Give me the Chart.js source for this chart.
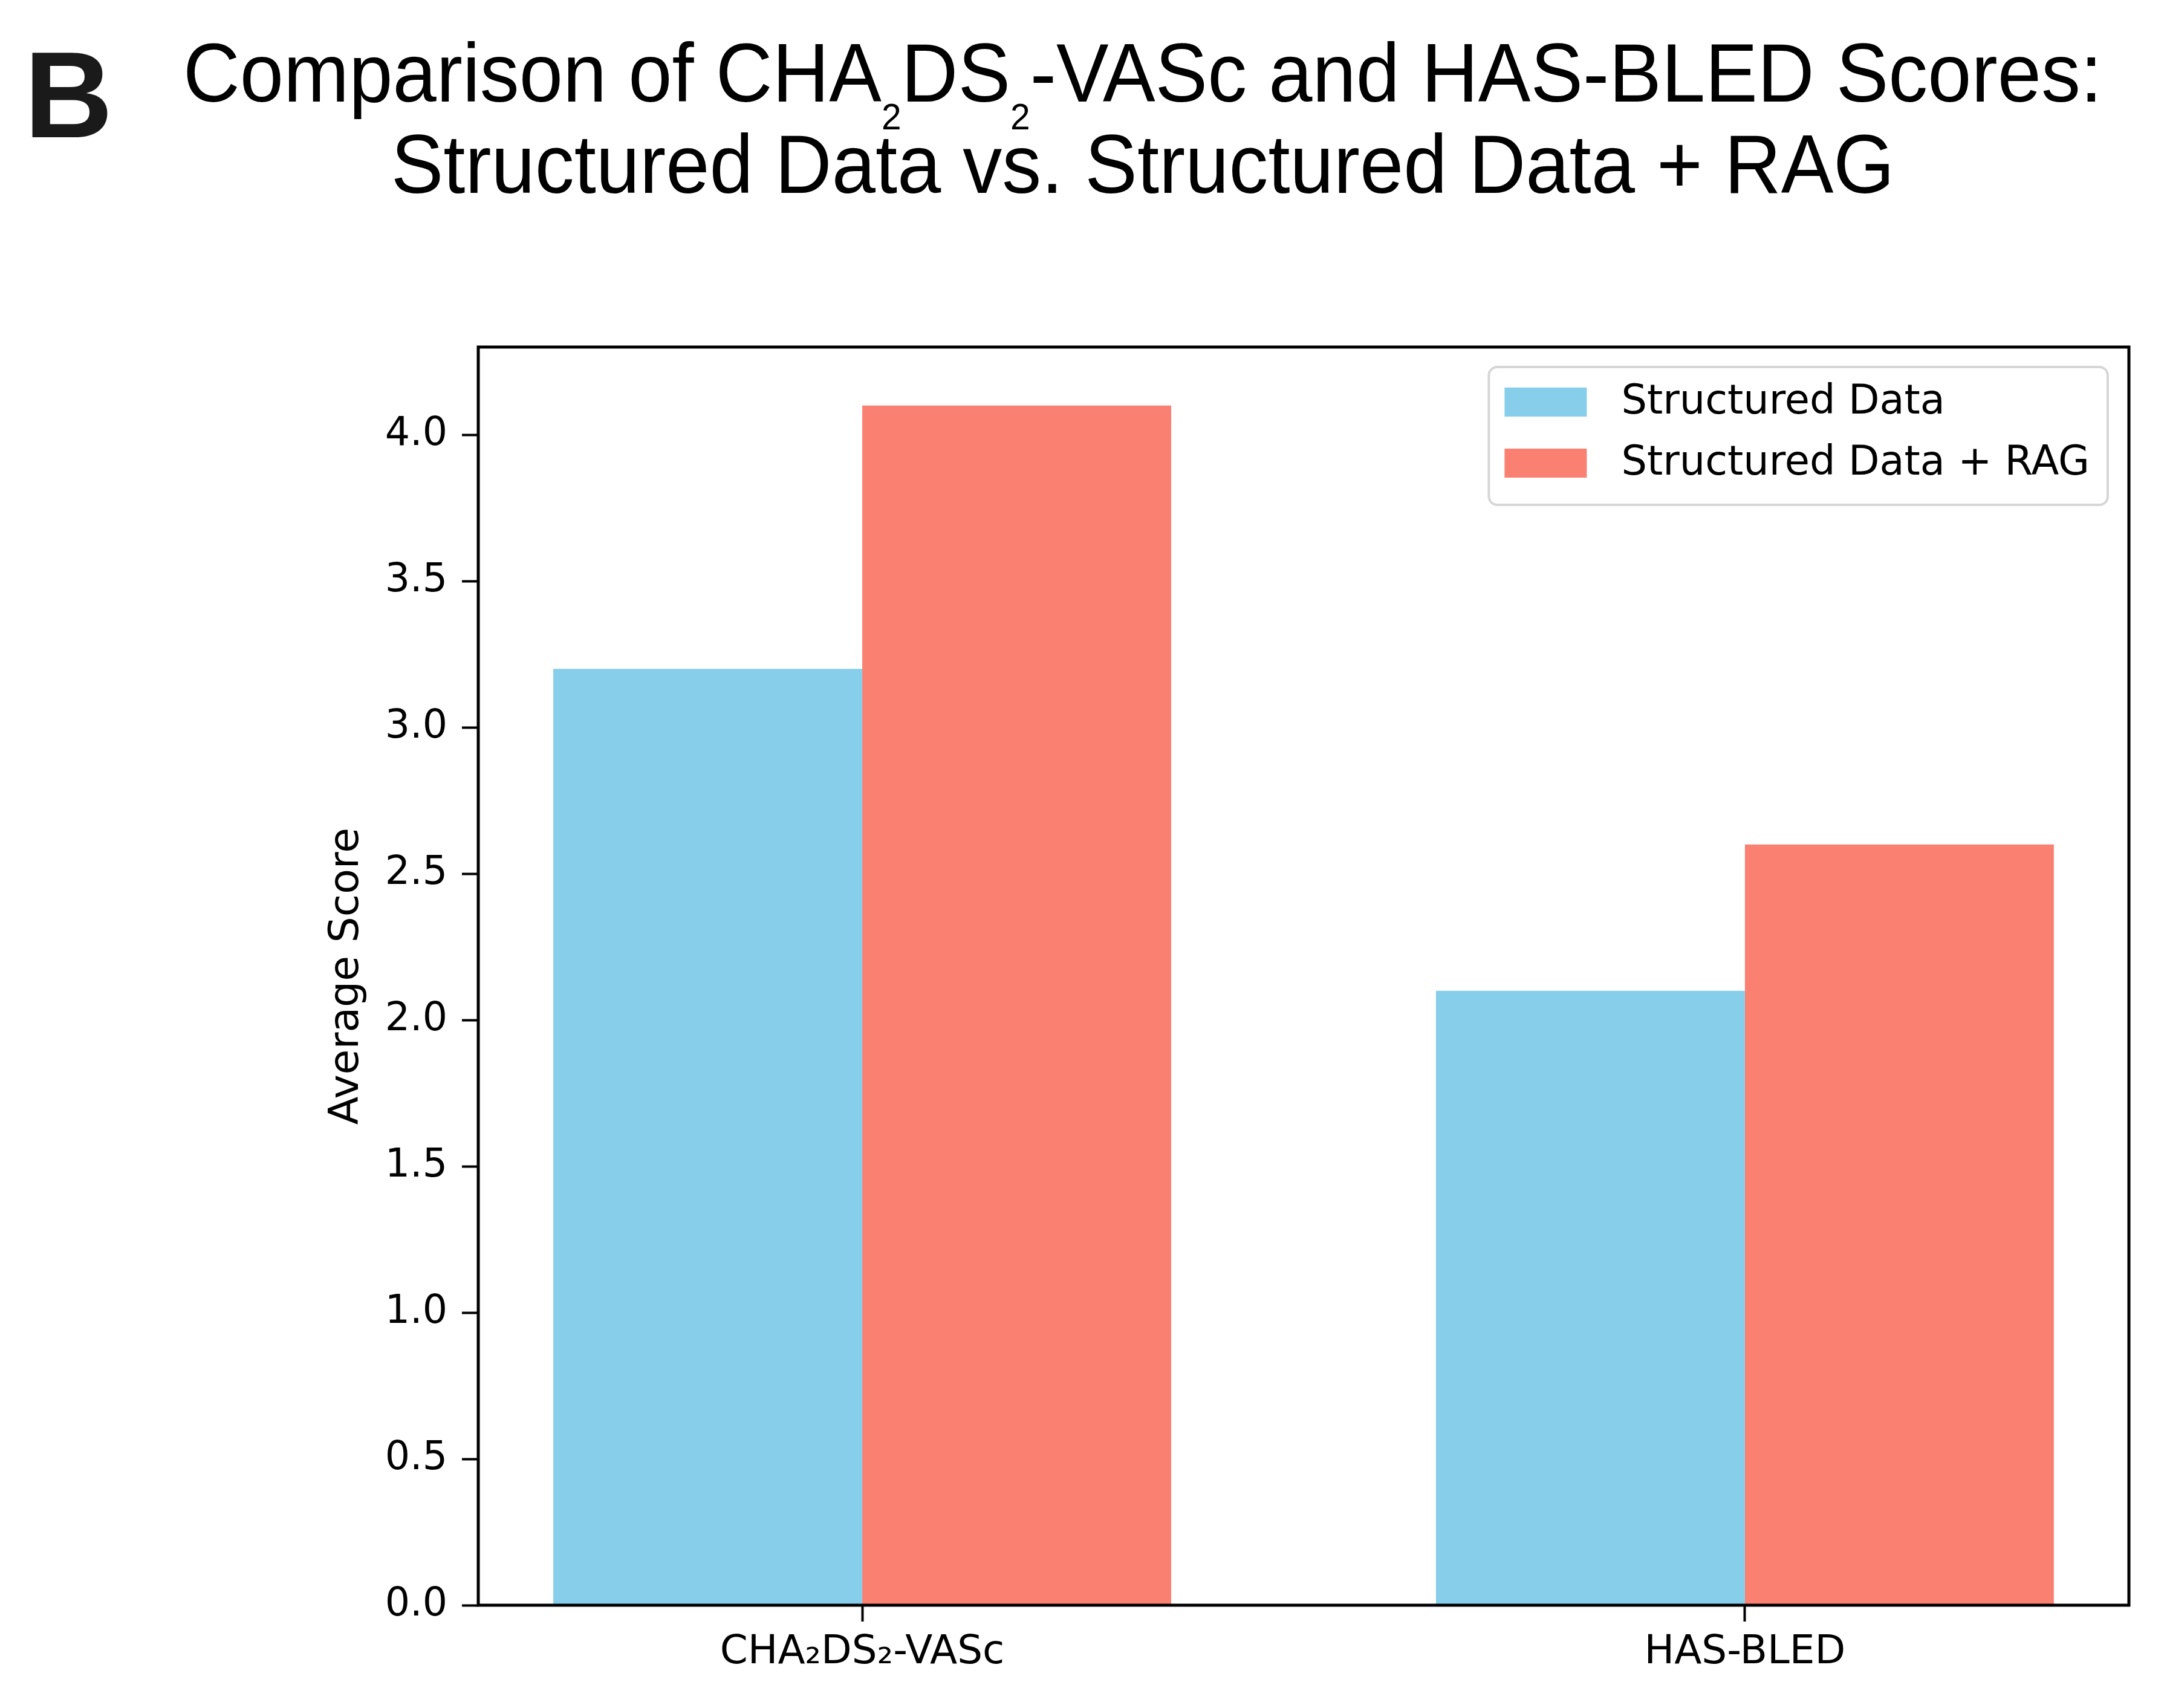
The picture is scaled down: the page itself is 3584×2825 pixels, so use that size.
<!DOCTYPE html>
<html>
<head>
<meta charset="utf-8">
<script src="https://cdn.jsdelivr.net/npm/chart.js@4.4.0/dist/chart.umd.min.js"></script>
<style>
  html, body { margin: 0; padding: 0; background: #fff; overflow: hidden; }
  canvas { display: block; }
</style>
</head>
<body>
<canvas id="chart" width="3584" height="2825"></canvas>
<script>
// values
const categories = ['CHA₂DS₂-VASc', 'HAS-BLED'];
const seriesLabels = ['Structured Data', 'Structured Data + RAG'];
const structuredScores = [3.2, 2.1];
const ragScores = [4.1, 2.6];
const yTickValues = [0, 0.5, 1, 1.5, 2, 2.5, 3, 3.5, 4];
const seriesColors = ['#87ceeb', '#fa8072'];

const xTickFont = { family: "'DejaVu Sans'", size: 66 };
const yTickFont = { family: "'DejaVu Sans'", size: 65 };

// title + panel letter, drawn as text on the canvas (subscripts need manual placement)
const titlePlugin = {
    id: 'figTitle',
    afterDraw(chart) {
        const ctx = chart.ctx;
        ctx.save();
        ctx.fillStyle = '#1a1a1a';
        ctx.textBaseline = 'alphabetic';
        ctx.textAlign = 'left';
        ctx.font = "bold 203px 'Liberation Sans'";
        ctx.fillText('B', 40, 227);

        ctx.fillStyle = '#000';
        const big = "137px 'Liberation Sans'";
        const small = "62px 'Liberation Sans'";
        const squeeze = 0.948; // reference title face is a touch narrower than Liberation Sans
        const drawRich = (segs, cx, base) => {
            let total = 0;
            segs.forEach(s => { ctx.font = s[1] ? small : big; total += ctx.measureText(s[0]).width; });
            ctx.save();
            ctx.translate(cx, 0);
            ctx.scale(squeeze, 1);
            let x = -total / 2;
            segs.forEach(s => {
                ctx.font = s[1] ? small : big;
                ctx.fillText(s[0], x, s[1] ? base + 46 : base);
                x += ctx.measureText(s[0]).width;
            });
            ctx.restore();
        };
        drawRich([['Comparison of CHA', false], ['2', true], ['DS', false], ['2', true],
                  ['-VASc and HAS-BLED Scores:', false]], 1890, 168);
        drawRich([['Structured Data vs. Structured Data + RAG', false]], 1890, 319);
        ctx.restore();
    }
};

// matplotlib-style framed legend in the upper right of the plot
const legendPlugin = {
    id: 'boxLegend',
    afterDraw(chart) {
        const ctx = chart.ctx;
        const area = chart.chartArea;
        ctx.save();
        ctx.font = "67px 'DejaVu Sans'";
        let maxW = 0;
        chart.data.datasets.forEach(ds => { maxW = Math.max(maxW, ctx.measureText(ds.label).width); });
        const w = 26 + 136 + 57 + maxW + 30;
        const h = 228;
        const x0 = area.right - 35 - w;
        const y0 = area.top + 33;
        ctx.beginPath();
        ctx.roundRect(x0, y0, w, h, 14);
        ctx.fillStyle = 'rgba(255,255,255,0.9)';
        ctx.fill();
        ctx.lineWidth = 4;
        ctx.strokeStyle = '#d6d6d6';
        ctx.stroke();
        chart.data.datasets.forEach((ds, i) => {
            const cy = y0 + 58 + i * 101;
            ctx.fillStyle = ds.backgroundColor;
            ctx.fillRect(x0 + 26, cy - 24, 136, 48);
            ctx.fillStyle = '#000';
            ctx.textBaseline = 'middle';
            ctx.fillText(ds.label, x0 + 219, cy + 2);
        });
        ctx.restore();
    }
};

// full box around the axes (spines)
const framePlugin = {
    id: 'frame',
    afterDatasetsDraw(chart) {
        const { ctx, chartArea: a } = chart;
        ctx.save();
        ctx.lineWidth = 5;
        ctx.strokeStyle = '#000';
        ctx.strokeRect(a.left, a.top, a.right - a.left, a.bottom - a.top);
        ctx.restore();
    }
};

const ctx = document.getElementById('chart').getContext('2d');
new Chart(ctx, {
    type: 'bar',
    data: {
        datasets: [
            {
                label: seriesLabels[0],
                data: categories.map((c, i) => ({ x: i, y: structuredScores[i] })),
                backgroundColor: seriesColors[0],
                borderWidth: 0
            },
            {
                label: seriesLabels[1],
                data: categories.map((c, i) => ({ x: i, y: ragScores[i] })),
                backgroundColor: seriesColors[1],
                borderWidth: 0
            }
        ]
    },
    options: {
        responsive: false,
        devicePixelRatio: 1,
        animation: false,
        categoryPercentage: 0.7,
        barPercentage: 1.0,
        layout: { padding: { top: 574, right: 63, left: 478, bottom: 0 } },
        plugins: {
            legend: { display: false },
            tooltip: { enabled: false },
            title: { display: false }
        },
        scales: {
            x: {
                type: 'linear',
                min: -0.435,
                max: 1.435,
                offset: false,
                afterBuildTicks: (scale) => { scale.ticks = categories.map((c, i) => ({ value: i })); },
                afterFit: (scale) => { scale.height = 170; },
                border: { display: false },
                grid: {
                    offset: false,
                    drawOnChartArea: false,
                    drawTicks: true,
                    tickLength: 27,
                    tickWidth: 4,
                    tickColor: '#000'
                },
                ticks: {
                    autoSkip: false,
                    maxRotation: 0,
                    padding: 12,
                    color: '#000',
                    font: xTickFont,
                    callback: (v) => categories[v]
                }
            },
            y: {
                min: 0,
                max: 4.3,
                afterBuildTicks: (scale) => { scale.ticks = yTickValues.map(v => ({ value: v })); },
                afterFit: (scale) => { scale.width = 313; },
                border: { display: false },
                grid: {
                    drawOnChartArea: false,
                    drawTicks: true,
                    tickLength: 27,
                    tickWidth: 4,
                    tickColor: '#000'
                },
                ticks: {
                    padding: 24,
                    color: '#000',
                    font: yTickFont,
                    callback: (v) => v.toFixed(1)
                },
                title: {
                    display: true,
                    text: 'Average Score',
                    color: '#000',
                    font: { family: "'DejaVu Sans'", size: 68 },
                    padding: { top: 56, bottom: 0 }
                }
            }
        }
    },
    plugins: [framePlugin, legendPlugin, titlePlugin]
});
</script>
</body>
</html>
